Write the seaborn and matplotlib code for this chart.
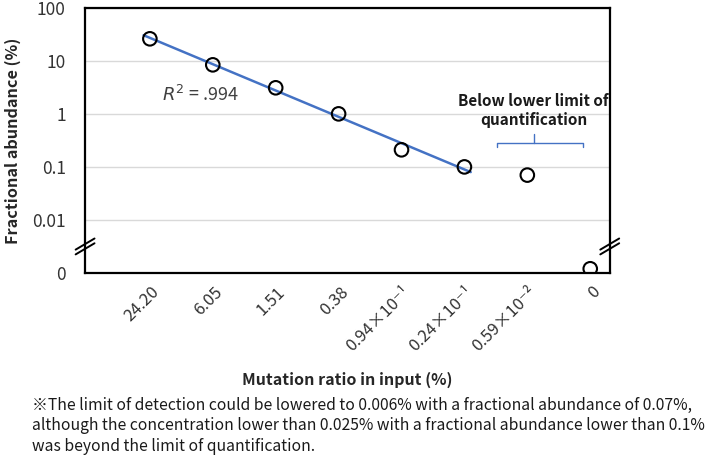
import numpy as np
import pandas as pd
import matplotlib
matplotlib.use("Agg")
import matplotlib.pyplot as plt
import matplotlib.transforms as mtrans
import seaborn as sns

# values
ratio_labels = ["24.20", "6.05", "1.51", "0.38",
                "0.94×10⁻¹", "0.24×10⁻¹", "0.59×10⁻²", "0"]
abundance = [26, 8.4, 3.1, 1.0, 0.21, 0.10, 0.07, 0]
n_fit = 6  # points used for the regression (above the limit of quantification)
ytick_vals = [0.001, 0.01, 0.1, 1, 10, 100]
ytick_labels = ["0", "0.01", "0.1", "1", "10", "100"]
zero_pos = 0.0012  # where a reading of 0 is drawn on the broken log axis

caption = ("※The limit of detection could be lowered to 0.006% with a fractional abundance of 0.07%,\n"
           "although the concentration lower than 0.025% with a fractional abundance lower than 0.1%\n"
           "was beyond the limit of quantification.")

sns.set_theme(style="white")
plt.rcParams['font.family'] = ['Noto Sans CJK JP', 'DejaVu Sans']
plt.rcParams['mathtext.fontset'] = 'dejavusans'

df = pd.DataFrame({"pos": np.arange(len(ratio_labels)), "abund": abundance})
df["plot_y"] = df["abund"].where(df["abund"] > 0, zero_pos)

# log-linear fit on the quantifiable points
fit_df = df.iloc[:n_fit]
slope, icpt = np.polyfit(fit_df["pos"], np.log10(fit_df["abund"]), 1)
xs = np.array([-0.1, n_fit - 1 + 0.1])
line_df = pd.DataFrame({"x": xs, "y": 10 ** (icpt + slope * xs)})

fig = plt.figure(figsize=(7.09, 4.58), dpi=100)
ax = fig.add_axes([0.120, 0.404, 0.740, 0.579])

ax.set_yscale("log")
ax.set_ylim(0.001, 100)
ax.set_xlim(-1.03, 7.31)
ax.yaxis.grid(True, color="#d9d9d9", linewidth=1)
ax.set_axisbelow(True)

sns.lineplot(data=line_df, x="x", y="y", ax=ax, color="#4472C4", linewidth=1.8, zorder=2)
sns.scatterplot(data=df, x="pos", y="plot_y", ax=ax, marker="o", s=95,
                facecolor="none", edgecolor="black", linewidth=1.5, zorder=3)

ax.set_yticks(ytick_vals)
ax.set_yticklabels(ytick_labels)
ax.minorticks_off()
ax.set_xticks(df["pos"])
ax.set_xticklabels(ratio_labels, rotation=45, ha="right", va="center", rotation_mode="anchor")
ax.tick_params(axis="y", length=0, pad=14, labelsize=12.5, labelcolor="#333333")
ax.tick_params(axis="x", length=0, pad=12, labelsize=12, labelcolor="#333333")
# nudge the slanted labels a little to the right, like the original
shift = mtrans.ScaledTranslation(5 / 72, 0, fig.dpi_scale_trans)
for lab in ax.get_xticklabels():
    lab.set_transform(lab.get_transform() + shift)

for sp in ax.spines.values():
    sp.set_color("black")
    sp.set_linewidth(1.6)

ax.set_xlabel("Mutation ratio in input (%)", fontsize=11.5, fontweight="bold", labelpad=12)
ax.set_ylabel("Fractional abundance (%)", fontsize=11.7, fontweight="bold", labelpad=8)

# axis break marks
for xb in (0.0, 1.0):
    for dy in (-0.009, 0.009):
        ax.plot([xb - 0.018, xb + 0.018], [0.10 + dy - 0.021, 0.10 + dy + 0.021],
                transform=ax.transAxes, color="black", lw=1.4, clip_on=False, zorder=5)

ax.text(0.2, 2.28, r"$R^2$ = .994", fontsize=13, color="#404040", ha="left", va="center")

ax.text(6.1, 0.55, "Below lower limit of\nquantification", fontsize=11, fontweight="bold",
        ha="center", va="bottom", linespacing=1.2, color="#1a1a1a")
# bracket over the points below the limit of quantification
ax.plot([5.51, 5.51, 6.89, 6.89], [0.238, 0.284, 0.284, 0.238], color="#4472C4", lw=1)
ax.plot([6.1, 6.1], [0.284, 0.42], color="#4472C4", lw=1)

fig.text(0.045, 0.070, caption, fontsize=11.3, ha="left", va="center",
         linespacing=1.3, color="#1a1a1a")

fig.savefig("out.png", dpi=100)
